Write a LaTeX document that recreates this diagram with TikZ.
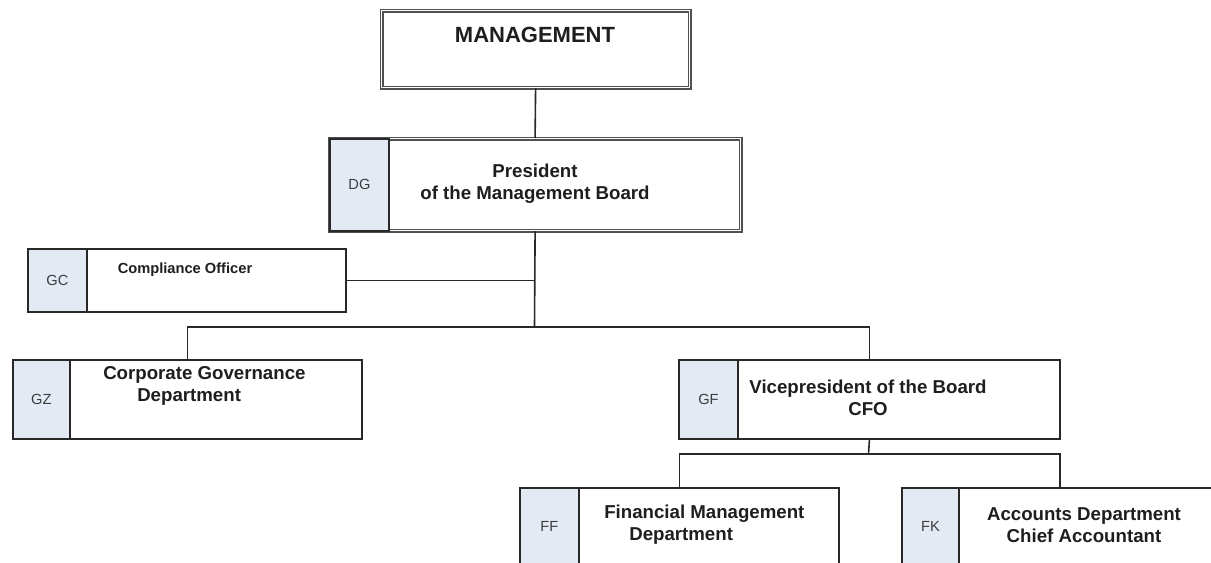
\documentclass[tikz,border=0pt]{standalone}
\usepackage{fontspec}
\setmainfont{Liberation Sans}
\usepackage{tikz}
\usetikzlibrary{positioning}
\definecolor{colorline}  {RGB}{40 ,40 ,40 }
\definecolor{colordouble}{RGB}{80 ,80 ,80 }
\definecolor{colorcode}  {RGB}{228,234,244}
\definecolor{colorcodetx}{RGB}{60 ,60 ,60 }
\definecolor{colortext}  {RGB}{30 ,30 ,30 }
\tikzset{boxsize/.style 2 args={minimum width=#1*0.75pt,minimum height=#2*0.75pt}}

\begin{document}
\begin{tikzpicture}[
    x=0.75pt, y=-0.75pt,
    unit/.style={draw=colorline,line width=1.4pt,fill=white,anchor=north west,inner sep=0pt},
    dbl/.style={draw=colordouble,line width=0.9pt,double=white,double distance=1.3pt},
    code/.style={unit,fill=colorcode,text=colorcodetx,font={\fontsize{11}{13}\selectfont}},
    txt/.style={text=colortext,font={\bfseries\fontsize{14}{16.5}\selectfont},align=center,inner sep=0pt},
    link/.style={draw=colorline,line width=1.2pt},
]
    \clip (0,0) rectangle (1211,562);

    % Boxes
    \node[unit,dbl,boxsize={308}{77}] (mgmt) at (381,10) {};
    \node[unit,dbl,boxsize={411}{92}] (pres) at (329,138) {};
    \node[code,boxsize={59}{92}] (presc) at (329,138) {DG};
    \node[unit,boxsize={318}{63}] (comp) at (27,248) {};
    \node[code,boxsize={59}{63}] (compc) at (27,248) {GC};
    \node[unit,boxsize={349}{79}] (gz) at (12,359) {};
    \node[code,boxsize={57}{79}] (gzc) at (12,359) {GZ};
    \node[unit,boxsize={381}{79}] (gf) at (678,359) {};
    \node[code,boxsize={59}{79}] (gfc) at (678,359) {GF};
    \node[unit,boxsize={319}{78}] (ff) at (519,487) {};
    \node[code,boxsize={59}{78}] (ffc) at (519,487) {FF};
    \node[unit,boxsize={316}{78}] (fk) at (901,487) {};
    \node[code,boxsize={57}{78}] (fkc) at (901,487) {FK};

    % Text
    \node[txt,font={\bfseries\fontsize{16.5}{19}\selectfont}] (mgmttx) at (535,35) {MANAGEMENT};
    \node[txt] (prestx) at (535,184) {President\\of the Management Board};
    \node[txt,font={\bfseries\fontsize{11}{13}\selectfont}] (comptx) at (185,270) {Compliance Officer};
    \node[txt,align=left,anchor=west] (gztx) at (103,386) {Corporate Governance\\\hspace*{25.5pt}Department};
    \node[txt] (gftx) at (868,398) {Vicepresident of the Board\\CFO};
    \node[txt,align=left,anchor=west] (fftx) at (604,525) {Financial Management\\\hspace*{18.75pt}Department};
    \node[txt] (fktx) at (1084,525) {Accounts Department\\Chief Accountant};

    % Lines
    \coordinate (hub) at (534.5,327);
    \coordinate (fhub) at (868.5,454);
    \draw[link] (mgmt.south) -- (pres.north);
    \draw[link] (pres.south) -- (hub);
    \draw[link] (comp.east) -- (comp.east -| hub);
    \draw[link] (gz.north) |- (hub) -| (gf.north);
    \draw[link] (gf.south) -- (fhub);
    \draw[link] (ff.north) |- (fhub) -| (fk.north);

\end{tikzpicture}
\end{document}
